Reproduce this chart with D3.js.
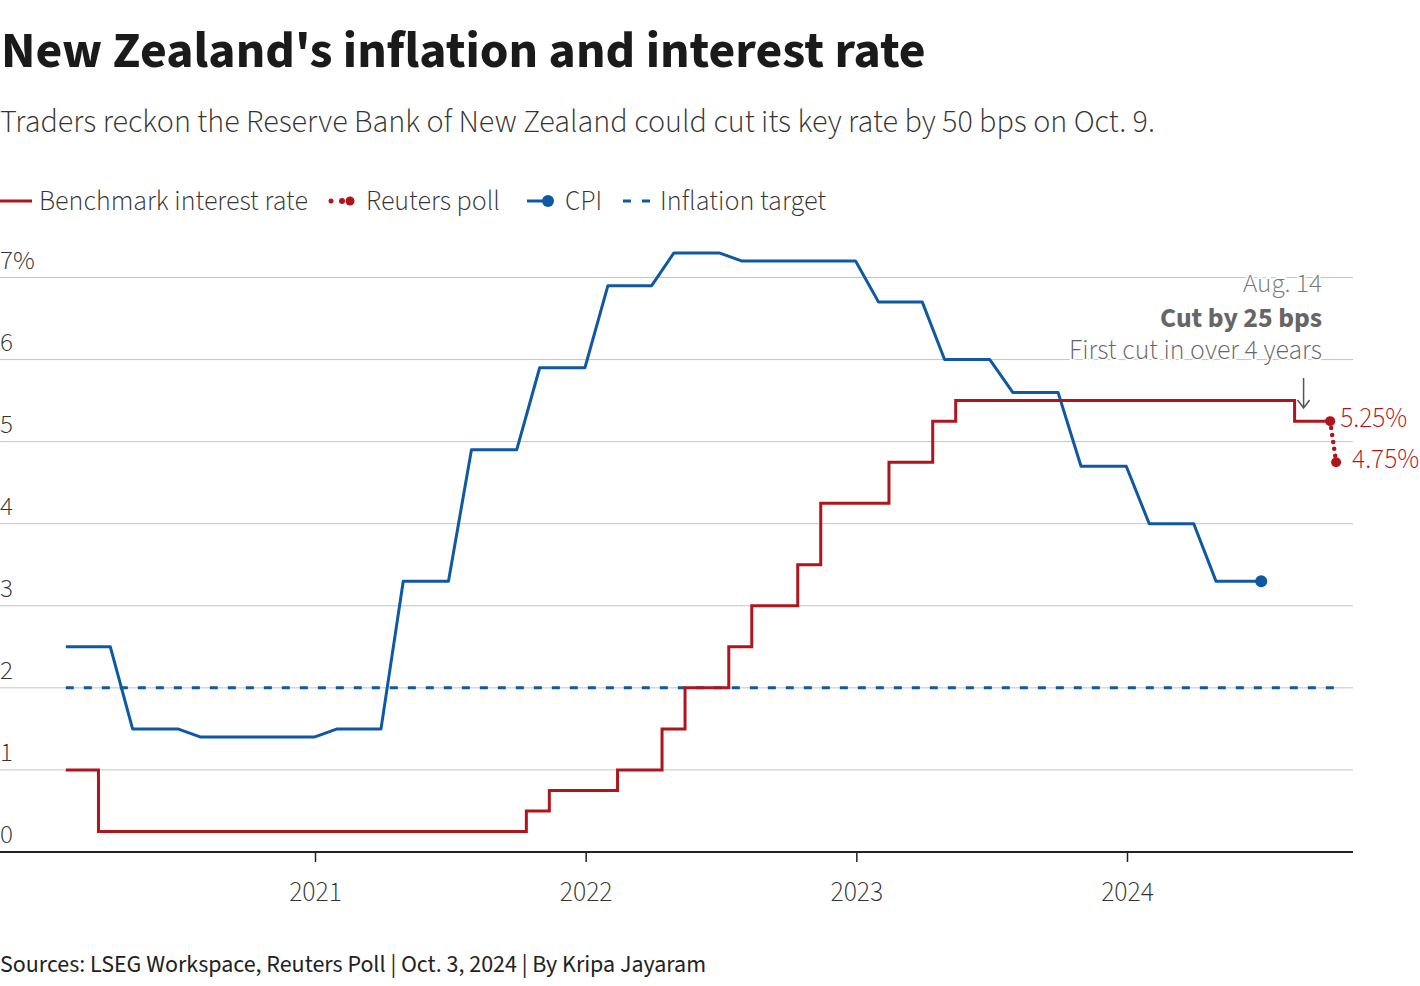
<!DOCTYPE html>
<html>
<head>
<meta charset="utf-8">
<script src="https://cdn.jsdelivr.net/npm/d3@7"></script>
<style>
  html, body { margin: 0; padding: 0; background: #fff; }
  svg text { font-family: "Source Sans 3", "Source Sans Pro", Roboto, sans-serif; }
</style>
</head>
<body>
<svg id="chart" width="1420" height="986"></svg>
<script>
// ---------------- data ----------------
const titleText = "New Zealand's inflation and interest rate";
const subtitleText = "Traders reckon the Reserve Bank of New Zealand could cut its key rate by 50 bps on Oct. 9.";
const sourceText = "Sources: LSEG Workspace, Reuters Poll | Oct. 3, 2024 | By Kripa Jayaram";

// CPI (annual %), plateau corners
const cpiDates = ["2020-01-31","2020-03-31","2020-04-30","2020-06-30","2020-07-31","2020-12-31",
  "2021-01-31","2021-03-31","2021-04-30","2021-06-30","2021-07-31","2021-09-30","2021-10-31","2021-12-31",
  "2022-01-31","2022-03-31","2022-04-30","2022-06-30","2022-07-31","2022-12-31",
  "2023-01-31","2023-03-31","2023-04-30","2023-06-30","2023-07-31","2023-09-30","2023-10-31","2023-12-31",
  "2024-01-31","2024-03-31","2024-04-30","2024-06-30"];
const cpiValues = [2.5,2.5,1.5,1.5,1.4,1.4,
  1.5,1.5,3.3,3.3,4.9,4.9,5.9,5.9,
  6.9,6.9,7.3,7.3,7.2,7.2,
  6.7,6.7,6.0,6.0,5.6,5.6,4.7,4.7,
  4.0,4.0,3.3,3.3];

// Official cash rate (step-after)
const rateDates = ["2020-01-31","2020-03-15","2021-10-13","2021-11-13","2022-02-13","2022-04-14","2022-05-15",
  "2022-07-13","2022-08-13","2022-10-14","2022-11-14","2023-02-14","2023-04-14","2023-05-15","2024-08-14","2024-10-01"];
const rateValues = [1.0,0.25,0.5,0.75,1.0,1.5,2.0,2.5,3.0,3.5,4.25,4.75,5.25,5.5,5.25,5.25];

// Reuters poll
const pollDates = ["2024-10-01","2024-10-09"];
const pollValues = [5.25,4.75];

// Inflation target
const targetDates = ["2020-01-31","2024-10-09"];
const targetValues = [2,2];

const yTickValues = [0,1,2,3,4,5,6,7];
const yTickLabels = ["0","1","2","3","4","5","6","7%"];
const xTickYears = ["2021","2022","2023","2024"];

const legendItems = ["Benchmark interest rate","Reuters poll","CPI","Inflation target"];
const annotationLines = ["Aug. 14","Cut by 25 bps","First cut in over 4 years"];
const pollLabels = ["5.25%","4.75%"];

// ---------------- setup ----------------
const RED = "#b0141c", BLUE = "#0f58a3", GRID = "#c4c4c4", TEXT = "#333";
const parse = d3.utcParse("%Y-%m-%d");
const svg = d3.select("#chart");

function fit(sel, w) {
  const len = sel.node().getComputedTextLength();
  const fs = parseFloat(sel.attr("font-size"));
  sel.attr("font-size", (fs * w / len).toFixed(2));
  return sel;
}

const x = d3.scaleUtc()
  .domain([parse("2021-01-01"), parse("2024-01-01")])
  .range([315, 1127]);
const y = d3.scaleLinear().domain([0, 7]).range([852, 277.5]);
const X0 = 0, X1 = 1353;

// ---------------- titles ----------------
fit(svg.append("text").attr("x", 1).attr("y", 67).attr("font-size", 46)
  .attr("font-weight", 700).attr("fill", "#1a1a1a").text(titleText), 925);
fit(svg.append("text").attr("x", 0).attr("y", 132).attr("font-size", 28)
  .attr("font-weight", 300).attr("fill", TEXT).text(subtitleText), 1155);

// ---------------- grid ----------------
const grid = svg.append("g");
grid.selectAll("line").data(yTickValues.filter(v => v > 0)).join("line")
  .attr("x1", X0).attr("x2", X1)
  .attr("y1", d => y(d)).attr("y2", d => y(d))
  .attr("stroke", GRID).attr("stroke-width", 1);

grid.selectAll("text").data(yTickValues).join("text")
  .attr("x", 0).attr("y", d => y(d) - 9)
  .attr("font-size", 27).attr("font-weight", 300).attr("fill", TEXT)
  .text((d, i) => yTickLabels[i]);

// ---------------- x axis ----------------
const xAxisG = svg.append("g").attr("transform", `translate(0,${y(0)})`);
xAxisG.call(d3.axisBottom(x)
  .tickValues(xTickYears.map(yr => parse(yr + "-01-01")))
  .tickSize(10).tickSizeOuter(0)
  .tickFormat(d3.utcFormat("%Y")));
xAxisG.select(".domain").remove();
xAxisG.selectAll(".tick line").attr("stroke", "#222").attr("stroke-width", 1.5);
xAxisG.selectAll(".tick text").attr("font-size", 27.5).attr("font-weight", 300)
  .attr("fill", TEXT).attr("dy", null).attr("y", 49)
  .style("font-family", "'Source Sans 3','Source Sans Pro',Roboto,sans-serif");
svg.append("line").attr("x1", X0).attr("x2", X1).attr("y1", y(0)).attr("y2", y(0))
  .attr("stroke", "#222").attr("stroke-width", 2);

// ---------------- series ----------------
const target = targetDates.map((d, i) => ({ date: parse(d), v: targetValues[i] }));
const cpi = cpiDates.map((d, i) => ({ date: parse(d), v: cpiValues[i] }));
const rate = rateDates.map((d, i) => ({ date: parse(d), v: rateValues[i] }));
const poll = pollDates.map((d, i) => ({ date: parse(d), v: pollValues[i] }));

const line = d3.line().x(d => x(d.date)).y(d => y(d.v));
const stepLine = d3.line().curve(d3.curveStepAfter).x(d => x(d.date)).y(d => y(d.v));

svg.append("path").datum(target).attr("d", line).attr("fill", "none")
  .attr("stroke", BLUE).attr("stroke-width", 3).attr("stroke-dasharray", "8,10");

svg.append("path").datum(cpi).attr("d", line).attr("fill", "none")
  .attr("stroke", BLUE).attr("stroke-width", 3).attr("stroke-linejoin", "round");
const lastCpi = cpi[cpi.length - 1];
svg.append("circle").attr("cx", x(lastCpi.date)).attr("cy", y(lastCpi.v)).attr("r", 6).attr("fill", BLUE);

svg.append("path").datum(rate).attr("d", stepLine).attr("fill", "none")
  .attr("stroke", RED).attr("stroke-width", 3);

svg.append("path").datum(poll).attr("d", line).attr("fill", "none")
  .attr("stroke", RED).attr("stroke-width", 4.5).attr("stroke-linecap", "round")
  .attr("stroke-dasharray", "0,7");
svg.selectAll("circle.poll").data(poll).join("circle").attr("class", "poll")
  .attr("cx", d => x(d.date)).attr("cy", d => y(d.v)).attr("r", 5).attr("fill", RED);

// poll labels
fit(svg.append("text").attr("x", x(poll[0].date) + 10).attr("y", y(poll[0].v) + 6)
  .attr("font-size", 25).attr("font-weight", 300).attr("fill", RED).text(pollLabels[0]), 67);
fit(svg.append("text").attr("x", x(poll[1].date) + 16).attr("y", y(poll[1].v) + 6)
  .attr("font-size", 25).attr("font-weight", 300).attr("fill", RED).text(pollLabels[1]), 67);

// ---------------- annotation ----------------
const annX = 1322;
const ann = svg.append("g").attr("text-anchor", "end")
  .attr("stroke", "#fff").attr("stroke-width", 4).attr("paint-order", "stroke");
fit(ann.append("text").attr("x", annX).attr("y", 292).attr("font-size", 24)
  .attr("font-weight", 300).attr("fill", "#777").text(annotationLines[0]), 79);
fit(ann.append("text").attr("x", annX).attr("y", 327).attr("font-size", 24)
  .attr("font-weight", 700).attr("fill", "#666").text(annotationLines[1]), 162);
fit(ann.append("text").attr("x", annX).attr("y", 359).attr("font-size", 24)
  .attr("font-weight", 300).attr("fill", "#666").text(annotationLines[2]), 253);

const ax = x(parse("2024-08-14")) + 9;
svg.append("path")
  .attr("d", `M${ax},378 L${ax},408 M${ax - 6},400 L${ax},408 L${ax + 6},400`)
  .attr("fill", "none").attr("stroke", "#555").attr("stroke-width", 1.5);

// ---------------- legend ----------------
const ly = 201;
const lg = svg.append("g");
lg.append("line").attr("x1", 0).attr("x2", 32).attr("y1", ly).attr("y2", ly)
  .attr("stroke", RED).attr("stroke-width", 3);
lg.append("circle").attr("cx", 331).attr("cy", ly).attr("r", 2.5).attr("fill", RED);
lg.append("circle").attr("cx", 342).attr("cy", ly).attr("r", 3).attr("fill", RED);
lg.append("circle").attr("cx", 350).attr("cy", ly).attr("r", 4.5).attr("fill", RED);
lg.append("line").attr("x1", 527).attr("x2", 548).attr("y1", ly).attr("y2", ly)
  .attr("stroke", BLUE).attr("stroke-width", 3);
lg.append("circle").attr("cx", 548).attr("cy", ly).attr("r", 6).attr("fill", BLUE);
lg.append("line").attr("x1", 623).attr("x2", 653).attr("y1", ly).attr("y2", ly)
  .attr("stroke", BLUE).attr("stroke-width", 3).attr("stroke-dasharray", "8,11");

const legendPos = [[39, 269], [366, 134], [565, 37], [660, 166]];
legendItems.forEach((t, i) => {
  fit(lg.append("text").attr("x", legendPos[i][0]).attr("y", ly + 9)
    .attr("font-size", 25).attr("font-weight", 300).attr("fill", TEXT).text(t), legendPos[i][1]);
});

// ---------------- footer ----------------
fit(svg.append("text").attr("x", 0).attr("y", 972).attr("font-size", 22)
  .attr("font-weight", 400).attr("fill", "#222").text(sourceText), 706);
</script>
</body>
</html>
